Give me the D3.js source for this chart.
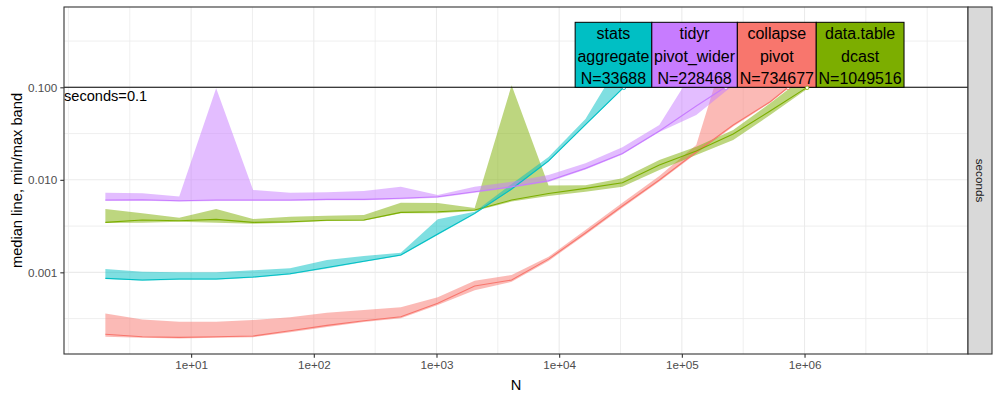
<!DOCTYPE html>
<html><head><meta charset="utf-8">
<script src="https://cdn.jsdelivr.net/npm/d3@7"></script>
<style>body{margin:0;background:#fff}svg{display:block;font-family:"Liberation Sans",Arial,sans-serif}</style>
</head><body><svg id="c" width="1000" height="400"></svg>
<script>
// ---- data ----
const N = [2,4,8,16,32,64,128,256,512,1024,2048,4096,8192,16384,32768,65536,131072,262144,524288,1048576];
const seriesNames = ["collapse\npivot","data.table\ndcast","stats\naggregate","tidyr\npivot_wider"];
const seriesColors = ["#F8766D","#7CAE00","#00BFC4","#C77CFF"];
const collapseMedian = [0.000214,0.000201,0.000198,0.000201,0.000205,0.000234,0.000267,0.000300,0.000331,0.000462,0.000711,0.000826,0.00139,0.00266,0.00521,0.00995,0.0200,0.0391,0.0699,0.146];
const collapseMin    = [0.000201,0.000196,0.000193,0.000196,0.000199,0.000225,0.000257,0.000290,0.000318,0.000443,0.00064,0.00079,0.00133,0.00255,0.00500,0.0096,0.0192,0.0378,0.0680,0.142];
const collapseMax    = [0.000360,0.000310,0.000292,0.000292,0.000305,0.000326,0.000366,0.000391,0.000419,0.000537,0.000811,0.000935,0.00147,0.00287,0.00565,0.0110,0.0238,0.471,0.223,0.197];
const dcastMedian = [0.00347,0.00368,0.00361,0.00374,0.00347,0.00352,0.00365,0.00368,0.00445,0.00452,0.00471,0.00605,0.00711,0.00809,0.00931,0.0145,0.0205,0.0313,0.0554,0.0998];
const dcastMin    = [0.00341,0.00344,0.00352,0.00344,0.00335,0.00344,0.00359,0.00361,0.00434,0.00434,0.00460,0.00582,0.00668,0.00744,0.00842,0.0128,0.0185,0.0269,0.0502,0.0958];
const dcastMax    = [0.00483,0.00434,0.00389,0.00483,0.00377,0.00399,0.00409,0.00416,0.00565,0.00561,0.00496,0.105,0.00868,0.00875,0.0104,0.0164,0.0228,0.0345,0.0672,0.136];
const aggregateMedian = [0.000861,0.000826,0.000847,0.000847,0.000890,0.000966,0.00113,0.00132,0.00154,0.00259,0.00434,0.00796,0.0160,0.0396,0.0970,0.241];
const aggregateMin    = [0.000850,0.000812,0.000832,0.000832,0.000872,0.000945,0.00110,0.00129,0.00151,0.00253,0.00425,0.00780,0.0157,0.0388,0.0950,0.236];
const aggregateMax    = [0.001086,0.001014,0.001000,0.001000,0.001051,0.001104,0.00136,0.00150,0.00163,0.00374,0.00452,0.00901,0.0176,0.0454,0.207,0.416];
const widerMedian = [0.00605,0.00609,0.00594,0.00605,0.00605,0.00605,0.00615,0.00615,0.00631,0.00657,0.00744,0.00842,0.00978,0.0133,0.0193,0.0337,0.0628,0.114];
const widerMin    = [0.00590,0.00594,0.00582,0.00590,0.00590,0.00592,0.00600,0.00600,0.00615,0.00640,0.00725,0.00820,0.00950,0.0129,0.0188,0.0328,0.0502,0.105];
const widerMax    = [0.00726,0.00715,0.00660,0.0975,0.00776,0.00726,0.00732,0.00757,0.00842,0.00685,0.00842,0.00953,0.0113,0.0151,0.0225,0.0391,0.170,0.471];
const crossN = [734677,1049516,33688,228468];
const secondsLimit = 0.1;
const xTickValues = [1e1,1e2,1e3,1e4,1e5,1e6];
const xTickLabels = ["1e+01","1e+02","1e+03","1e+04","1e+05","1e+06"];
const yTickValues = [0.001,0.01,0.1];
const yTickLabels = ["0.001","0.010","0.100"];
const xDomain = [0.92, 2.15e7];
const yDomain = [0.000131, 0.738];

const medians=[collapseMedian,dcastMedian,aggregateMedian,widerMedian];
const mins=[collapseMin,dcastMin,aggregateMin,widerMin];
const maxs=[collapseMax,dcastMax,aggregateMax,widerMax];

// ---- layout ----
const L=64,R=968,T=7,B=354;
const svg=d3.select("#c");
const x=d3.scaleLog().domain(xDomain).range([L,R]);
const y=d3.scaleLog().domain(yDomain).range([B,T]);

svg.append("rect").attr("x",L).attr("y",T).attr("width",R-L).attr("height",B-T).attr("fill","#fff");
const grid=svg.append("g");
// minor grid
const lx0=Math.log10(xDomain[0]), lx1=Math.log10(xDomain[1]);
for(let e=Math.ceil(lx0*2)/2;e<=lx1;e+=0.5){ if(xTickValues.some(v=>Math.abs(Math.log10(v)-e)<1e-9)) continue;
  grid.append("line").attr("x1",x(10**e)).attr("x2",x(10**e)).attr("y1",T).attr("y2",B).attr("stroke","#EBEBEB").attr("stroke-width",0.8);}
const ly0=Math.log10(yDomain[0]), ly1=Math.log10(yDomain[1]);
for(let e=Math.ceil(ly0*2)/2;e<=ly1;e+=0.5){ if(yTickValues.some(v=>Math.abs(Math.log10(v)-e)<1e-9)) continue;
  grid.append("line").attr("y1",y(10**e)).attr("y2",y(10**e)).attr("x1",L).attr("x2",R).attr("stroke","#EBEBEB").attr("stroke-width",0.8);}
xTickValues.forEach(v=>grid.append("line").attr("x1",x(v)).attr("x2",x(v)).attr("y1",T).attr("y2",B).attr("stroke","#EBEBEB").attr("stroke-width",1.1));
yTickValues.forEach(v=>grid.append("line").attr("y1",y(v)).attr("y2",y(v)).attr("x1",L).attr("x2",R).attr("stroke","#EBEBEB").attr("stroke-width",1.1));

svg.append("clipPath").attr("id","clip").append("rect").attr("x",L).attr("y",T).attr("width",R-L).attr("height",B-T);
const plot=svg.append("g").attr("clip-path","url(#clip)");
const area=d3.area().x(d=>x(d.n)).y0(d=>y(d.lo)).y1(d=>y(d.hi));
const line=d3.line().x(d=>x(d.n)).y(d=>y(d.m));
const sdata=medians.map((m,i)=>m.map((v,j)=>({n:N[j],m:v,lo:mins[i][j],hi:maxs[i][j]})));
sdata.forEach((d,i)=>plot.append("path").attr("d",area(d)).attr("fill",seriesColors[i]).attr("fill-opacity",0.5));
sdata.forEach((d,i)=>plot.append("path").attr("d",line(d)).attr("fill","none").attr("stroke",seriesColors[i]).attr("stroke-width",1.1));

// limit line
plot.append("line").attr("x1",L).attr("x2",R).attr("y1",y(secondsLimit)).attr("y2",y(secondsLimit)).attr("stroke","#000").attr("stroke-width",1.1);
svg.append("text").attr("x",L).attr("y",y(secondsLimit)+14).attr("font-size",14.6).attr("fill","#000").text("seconds="+secondsLimit);

// direct labels (boxes) - solve 1D non-overlap by isotonic regression
const order=d3.range(crossN.length).sort((a,b)=>crossN[a]-crossN[b]);
const tmp=svg.append("text").attr("font-size",16);
const widths=order.map(i=>{let w=0;seriesNames[i].split("\n").concat(["N="+crossN[i]]).forEach(s=>{tmp.text(s);w=Math.max(w,tmp.node().getComputedTextLength());});return w+4.6;});
tmp.remove();
let cum=0;const z=order.map((i,k)=>{const t=x(crossN[i])-widths[k]/2-cum;cum+=widths[k];return t;});
// PAVA
let blocks=[];z.forEach(v=>{blocks.push({s:v,c:1});while(blocks.length>1&&blocks[blocks.length-2].s/blocks[blocks.length-2].c>blocks[blocks.length-1].s/blocks[blocks.length-1].c){const b=blocks.pop();blocks[blocks.length-1].s+=b.s;blocks[blocks.length-1].c+=b.c;}});
const zf=[];blocks.forEach(b=>{for(let k=0;k<b.c;k++)zf.push(b.s/b.c);});
const labG=svg.append("g");
let c2=0;
order.forEach((i,k)=>{
  const left=zf[k]+c2;c2+=widths[k];
  const bottom=y(secondsLimit), top=bottom-65;
  labG.append("circle").attr("cx",x(crossN[i])).attr("cy",bottom+0.5).attr("r",1.8).attr("fill","#fff").attr("stroke",seriesColors[i]).attr("stroke-width",0.8);
  labG.append("rect").attr("x",left).attr("y",top).attr("width",widths[k]).attr("height",bottom-top).attr("fill",seriesColors[i]).attr("stroke","#000").attr("stroke-width",1);
  const lines=seriesNames[i].split("\n").concat(["N="+crossN[i]]);
  lines.forEach((s,j)=>labG.append("text").attr("x",left+widths[k]/2).attr("y",top+16.8+j*22.6).attr("text-anchor","middle").attr("font-size",16).attr("fill","#000").text(s));
});

// panel border
svg.append("rect").attr("x",L).attr("y",T).attr("width",R-L).attr("height",B-T).attr("fill","none").attr("stroke","#333").attr("stroke-width",1.1);
// strip
svg.append("rect").attr("x",R).attr("y",T).attr("width",24).attr("height",B-T).attr("fill","#D9D9D9").attr("stroke","#333").attr("stroke-width",1.1);
svg.append("text").attr("transform",`translate(${R+12},${(T+B)/2}) rotate(90)`).attr("text-anchor","middle").attr("dominant-baseline","central").attr("font-size",11.7).attr("fill","#1A1A1A").text("seconds");

// axes
const ax=svg.append("g").attr("transform",`translate(0,${B})`).call(d3.axisBottom(x).tickValues(xTickValues).tickFormat((d,i)=>xTickLabels[i]).tickSize(3.7).tickPadding(3));
ax.select(".domain").remove();
ax.selectAll("line").attr("stroke","#333").attr("stroke-width",1.1);
ax.selectAll("text").attr("font-size",11.7).attr("fill","#4D4D4D").attr("font-family","Liberation Sans, Arial");
const ay=svg.append("g").attr("transform",`translate(${L},0)`).call(d3.axisLeft(y).tickValues(yTickValues).tickFormat((d,i)=>yTickLabels[i]).tickSize(3.7).tickPadding(3));
ay.select(".domain").remove();
ay.selectAll("line").attr("stroke","#333").attr("stroke-width",1.1);
ay.selectAll("text").attr("font-size",11.7).attr("fill","#4D4D4D").attr("font-family","Liberation Sans, Arial");
svg.append("text").attr("x",(L+R)/2).attr("y",390).attr("text-anchor","middle").attr("font-size",14.67).attr("fill","#000").text("N");
svg.append("text").attr("transform",`translate(22,${(T+B)/2}) rotate(-90)`).attr("text-anchor","middle").attr("font-size",14.67).attr("fill","#000").text("median line, min/max band");
</script></body></html>
